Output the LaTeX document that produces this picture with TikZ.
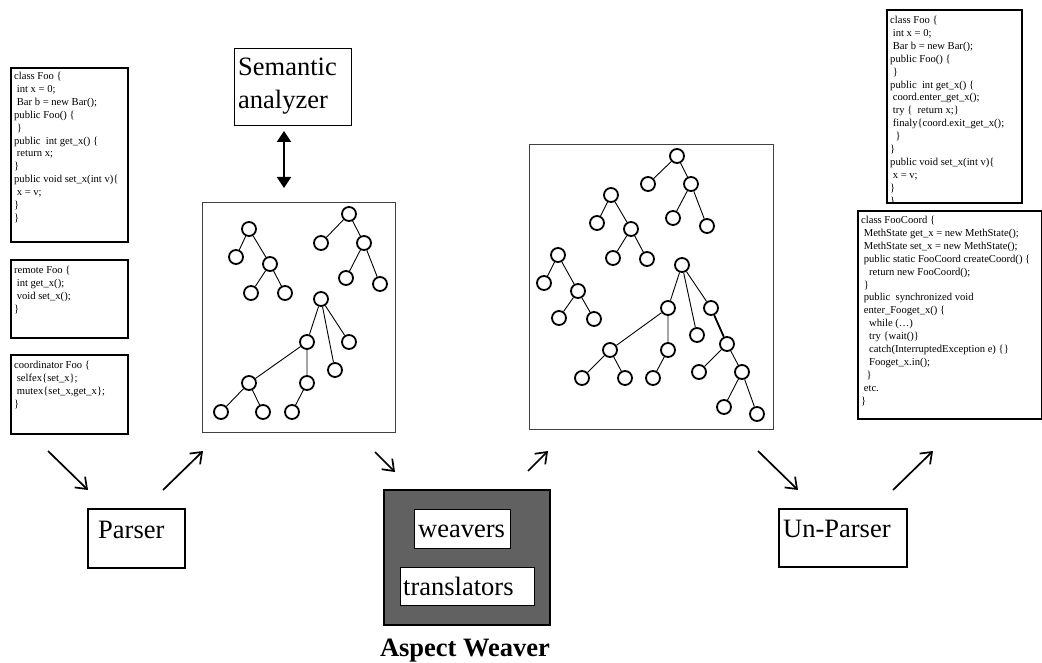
\documentclass[tikz,border=0pt]{standalone}
\usepackage{fontspec}
\setmainfont{Liberation Serif}
\usetikzlibrary{arrows.meta}
\begin{document}
\begin{tikzpicture}[x=1pt,y=-1pt,
  codebox/.style={draw, line width=1.8pt, anchor=north west, inner sep=0pt},
  treebox/.style={draw=black!75, line width=1pt, anchor=north west, inner sep=0pt},
  labelbox/.style={draw, line width=1.5pt, anchor=north west, inner sep=0pt},
  innerbox/.style={draw, fill=white, line width=1pt, anchor=north west, inner sep=0pt},
  code/.style={anchor=north west, inner sep=0pt, align=left, font=\fontsize{10.6}{12.9}\selectfont},
  big/.style={anchor=base west, inner sep=0pt, font=\fontsize{26.5}{32.5}\selectfont},
  tn/.style={circle, draw, line width=1.8pt, minimum size=14pt, inner sep=0pt},
  te/.style={line width=0.9pt},
  flow/.style={line width=1.7pt, -{Straight Barb[length=10pt,width=15pt]}},
  dbl/.style={line width=2pt, {Triangle[length=11pt,width=14pt]}-{Triangle[length=11pt,width=14pt]}}
]
\useasboundingbox (0,0) rectangle (1042,663);

% ---------- left code boxes ----------
\node[code] (c1t) at (14,72) {class Foo \{\\
\ int x = 0;\\
\ Bar b = new Bar();\\
public Foo() \{\\
\ \}\\
public\ \ int get\_x() \{\\
\ return x;\\
\}\\
public void set\_x(int v)\{\\
\ x = v;\\
\}\\
\}};
\node[codebox, minimum width=117pt, minimum height=174pt] (c1) at (10,67) {};

\node[code] (c2t) at (14,266) {remote Foo \{\\
\ int get\_x();\\
\ void set\_x();\\
\}};
\node[codebox, minimum width=117pt, minimum height=78pt] (c2) at (10,259) {};

\node[code] (c3t) at (14,361) {coordinator Foo \{\\
\ selfex\{set\_x\};\\
\ mutex\{set\_x,get\_x\};\\
\}};
\node[codebox, minimum width=117pt, minimum height=79pt] (c3) at (10,354) {};

% ---------- right code boxes ----------
\begin{scope}
\clip (886,9) rectangle (1021,202);
\node[code] (r1t) at (890,16) {class Foo \{\\
\ int x = 0;\\
\ Bar b = new Bar();\\
public Foo() \{\\
\ \}\\
public\ \ int get\_x() \{\\
\ coord.enter\_get\_x();\\
\ try \{\ \ return x;\}\\
\ finaly\{coord.exit\_get\_x();\\
\ \ \}\\
\}\\
public void set\_x(int v)\{\\
\ x = v;\\
\}\\
\}};
\end{scope}
\node[codebox, minimum width=135pt, minimum height=193pt] (r1) at (886,9) {};

\node[code] (r2t) at (861,216) {class FooCoord \{\\
\ MethState get\_x = new MethState();\\
\ MethState set\_x = new MethState();\\
\ public static FooCoord createCoord() \{\\
\ \ \ return new FooCoord();\\
\ \}\\
\ public\ \ synchronized void\\
\ enter\_Fooget\_x() \{\\
\ \ \ while (…)\\
\ \ \ try \{wait()\}\\
\ \ \ catch(InterruptedException e) \{\}\\
\ \ \ Fooget\_x.in();\\
\ \ \}\\
\ etc.\\
\}};
\node[codebox, minimum width=184pt, minimum height=208pt] (r2) at (857,210) {};

% ---------- semantic analyzer ----------
\node[labelbox, line width=1.3pt, minimum width=117pt, minimum height=77pt] (sem) at (234,48) {};
\node[anchor=north west, inner sep=0pt, align=left, font=\fontsize{26.5}{32.5}\selectfont] (semt) at (238,58) {Semantic\\analyzer};
\coordinate (sa1) at (284,131);
\coordinate (sa2) at (284,188);
\draw[dbl] (sa1) -- (sa2);

% ---------- tree box 1 ----------
\node[treebox, minimum width=193pt, minimum height=230pt] (tb1) at (202,202) {};
\node[tn] (a) at (249,229) {};
\node[tn] (a1) at (236,257) {};
\node[tn] (a2) at (270,264) {};
\node[tn] (a21) at (251,293) {};
\node[tn] (a22) at (285,293) {};
\draw[te] (a)--(a1) (a)--(a2) (a2)--(a21) (a2)--(a22);
\node[tn] (b) at (349,214) {};
\node[tn] (b1) at (321,243) {};
\node[tn] (b2) at (364,243) {};
\node[tn] (b21) at (346,278) {};
\node[tn] (b22) at (380,284) {};
\draw[te] (b)--(b1) (b)--(b2) (b2)--(b21) (b2)--(b22);
\node[tn] (c) at (321,299) {};
\node[tn] (cc1) at (307,342) {};
\node[tn] (cc2) at (335,370) {};
\node[tn] (cc3) at (349,342) {};
\node[tn] (cc11) at (249,383) {};
\node[tn] (cc12) at (307,383) {};
\node[tn] (cc111) at (221,412) {};
\node[tn] (cc112) at (263,412) {};
\node[tn] (cc121) at (292,412) {};
\draw[te] (c)--(cc1) (c)--(cc2) (c)--(cc3) (cc1)--(cc11) (cc1)--(cc12)
  (cc11)--(cc111) (cc11)--(cc112) (cc12)--(cc121);

% ---------- tree box 2 ----------
\node[treebox, minimum width=244pt, minimum height=285pt] (tb2) at (529,144) {};
\node[tn] (d) at (677,156) {};
\node[tn] (d1) at (648,184) {};
\node[tn] (d2) at (691,184) {};
\node[tn] (d21) at (673,218) {};
\node[tn] (d22) at (707,226) {};
\draw[te] (d)--(d1) (d)--(d2) (d2)--(d21) (d2)--(d22);
\node[tn] (e) at (611,195) {};
\node[tn] (e1) at (597,223) {};
\node[tn] (e2) at (631,229) {};
\node[tn] (e21) at (613,258) {};
\node[tn] (e22) at (647,259) {};
\draw[te] (e)--(e1) (e)--(e2) (e2)--(e21) (e2)--(e22);
\node[tn] (f) at (558,255) {};
\node[tn] (f1) at (544,283) {};
\node[tn] (f2) at (578,291) {};
\node[tn] (f21) at (559,318) {};
\node[tn] (f22) at (594,319) {};
\draw[te] (f)--(f1) (f)--(f2) (f2)--(f21) (f2)--(f22);
\node[tn] (g) at (682,265) {};
\node[tn] (g1) at (668,308) {};
\node[tn] (g2) at (697,335) {};
\node[tn] (g3) at (711,308) {};
\node[tn] (g11) at (610,350) {};
\node[tn] (g12) at (668,350) {};
\node[tn] (g111) at (582,378) {};
\node[tn] (g112) at (625,378) {};
\node[tn] (g121) at (653,378) {};
\node[tn] (g31) at (727,344) {};
\node[tn] (g311) at (699,372) {};
\node[tn] (g312) at (742,372) {};
\node[tn] (g3121) at (724,407) {};
\node[tn] (g3122) at (757,414) {};
\draw[te] (g)--(g1) (g)--(g2) (g)--(g3) (g1)--(g11) (g1)--(g12)
  (g11)--(g111) (g11)--(g112) (g12)--(g121)
  (g31)--(g311) (g31)--(g312) (g312)--(g3121) (g312)--(g3122);
\draw[line width=1.8pt] (g3)--(g31);

% ---------- parser ----------
\node[labelbox, minimum width=97pt, minimum height=59pt] (parser) at (87,508) {};
\node[big] (parsert) at (98,538) {Parser};

% ---------- aspect weaver ----------
\node[draw, fill=black!62, line width=1.5pt, anchor=north west, inner sep=0pt, minimum width=166pt, minimum height=135pt] (aw) at (383,489) {};
\node[innerbox, minimum width=96pt, minimum height=39pt] (wv) at (414,509) {};
\node[big] (wvt) at (418,537) {weavers};
\node[innerbox, minimum width=134pt, minimum height=38pt] (tr) at (400,567) {};
\node[big] (trt) at (403,595) {translators};
\node[anchor=base, inner sep=0pt, font=\fontsize{26.5}{32}\selectfont\bfseries] (awt) at (465,656) {Aspect Weaver};

% ---------- un-parser ----------
\node[labelbox, minimum width=128pt, minimum height=58pt] (unparser) at (778,508) {};
\node[big] (unparsert) at (783,537) {Un-Parser};

% ---------- flow arrows ----------
\coordinate (p1s) at (48,451);  \coordinate (p1e) at (88,490);
\coordinate (p2s) at (163,490); \coordinate (p2e) at (203,451);
\coordinate (p3s) at (375,452); \coordinate (p3e) at (395,472);
\coordinate (p4s) at (528,471); \coordinate (p4e) at (548,451);
\coordinate (p5s) at (758,451); \coordinate (p5e) at (798,490);
\coordinate (p6s) at (893,490); \coordinate (p6e) at (933,451);
\draw[flow] (p1s) -- (p1e);
\draw[flow] (p2s) -- (p2e);
\draw[flow] (p3s) -- (p3e);
\draw[flow] (p4s) -- (p4e);
\draw[flow] (p5s) -- (p5e);
\draw[flow] (p6s) -- (p6e);
\end{tikzpicture}
\end{document}
